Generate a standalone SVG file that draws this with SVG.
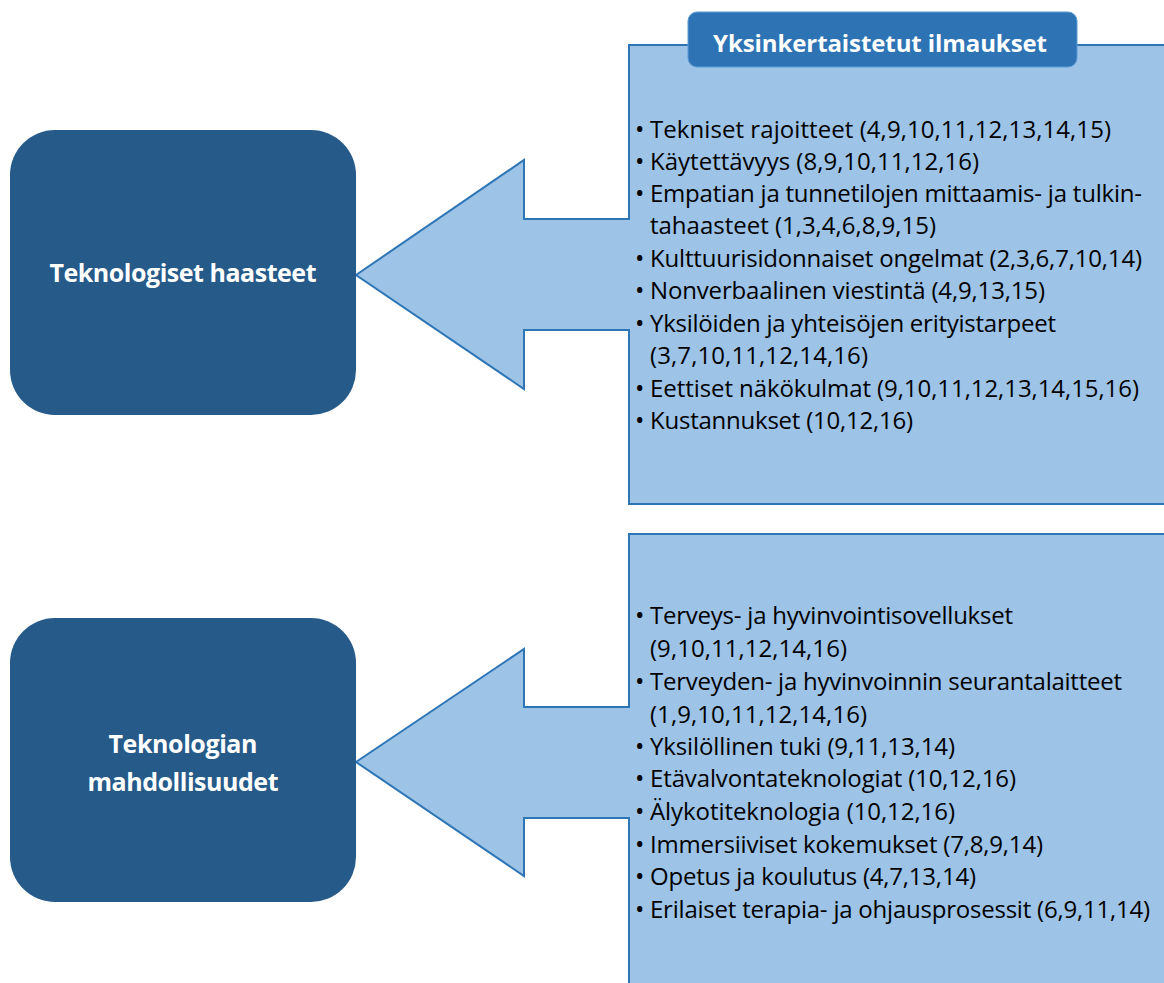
<svg xmlns="http://www.w3.org/2000/svg" width="1164" height="983" viewBox="0 0 1164 983">
  <style>
    .node-box { fill: #255A89; }
    .node-label { font-family: "Open Sans", "Liberation Sans", sans-serif; font-weight: 700; font-size: 25px; fill: #FFFFFF; text-anchor: middle; }
    .callout { fill: #9DC3E6; stroke: #2E75B6; stroke-width: 2; stroke-linejoin: miter; }
    .header-box { fill: #2E74B5; stroke: #5B9BD5; stroke-width: 1; }
    .header-label { font-family: "Open Sans", "Liberation Sans", sans-serif; font-weight: 700; font-size: 24px; fill: #FFFFFF; text-anchor: middle; }
    .item { font-family: "Open Sans", "Liberation Sans", sans-serif; font-size: 24px; fill: #000000; }
    .bullet { font-family: "Open Sans", "Liberation Sans", sans-serif; font-size: 25px; fill: #000000; }
  </style>

  <rect width="1164" height="983" fill="#FFFFFF"/>

  <!-- Left-pointing callout arrows (panel + arrow as one outline) -->
  <g id="connectors">
    <path id="callout-haasteet" class="callout" d="M356,275 L524,160 L524,219 L629,219 L629,45 L1168,45 L1168,504 L629,504 L629,330 L524,330 L524,389 Z"/>
    <path id="callout-mahdollisuudet" class="callout" d="M356,762 L524,649 L524,707 L629,707 L629,534 L1168,534 L1168,988 L629,988 L629,818 L524,818 L524,876 Z"/>
  </g>

  <!-- Left category boxes -->
  <g id="node-haasteet">
    <rect class="node-box" x="10" y="130" width="346" height="285" rx="45" ry="45"/>
    <text class="node-label" x="183" y="282" textLength="267">Teknologiset haasteet</text>
  </g>

  <g id="node-mahdollisuudet">
    <rect class="node-box" x="10" y="618" width="346" height="284" rx="45" ry="45"/>
    <text class="node-label" x="183" y="753" textLength="149">Teknologian</text>
    <text class="node-label" x="183" y="791" textLength="191">mahdollisuudet</text>
  </g>

  <!-- Header tab -->
  <g id="header">
    <rect class="header-box" x="688" y="12" width="389" height="55" rx="9" ry="9"/>
    <text class="header-label" x="880" y="52" textLength="334">Yksinkertaistetut ilmaukset</text>
  </g>

  <!-- Challenge list -->
  <g id="list-haasteet">
    <text class="bullet" x="635" y="138">•</text>
    <text class="item" x="650" y="138" textLength="461">Tekniset rajoitteet (4,9,10,11,12,13,14,15)</text>
    <text class="bullet" x="635" y="170">•</text>
    <text class="item" x="650" y="170" textLength="329">Käytettävyys (8,9,10,11,12,16)</text>
    <text class="bullet" x="635" y="202">•</text>
    <text class="item" x="650" y="202" textLength="492">Empatian ja tunnetilojen mittaamis- ja tulkin-</text>
    <text class="item" x="650" y="234" textLength="286">tahaasteet (1,3,4,6,8,9,15)</text>
    <text class="bullet" x="635" y="267">•</text>
    <text class="item" x="650" y="267" textLength="492">Kulttuurisidonnaiset ongelmat (2,3,6,7,10,14)</text>
    <text class="bullet" x="635" y="299">•</text>
    <text class="item" x="650" y="299" textLength="395">Nonverbaalinen viestintä (4,9,13,15)</text>
    <text class="bullet" x="635" y="332">•</text>
    <text class="item" x="650" y="332" textLength="406">Yksilöiden ja yhteisöjen erityistarpeet</text>
    <text class="item" x="650" y="364" textLength="218">(3,7,10,11,12,14,16)</text>
    <text class="bullet" x="635" y="397">•</text>
    <text class="item" x="650" y="397" textLength="489">Eettiset näkökulmat (9,10,11,12,13,14,15,16)</text>
    <text class="bullet" x="635" y="429">•</text>
    <text class="item" x="650" y="429" textLength="263">Kustannukset (10,12,16)</text>
  </g>

  <!-- Opportunity list -->
  <g id="list-mahdollisuudet">
    <text class="bullet" x="635" y="624">•</text>
    <text class="item" x="650" y="624" textLength="363">Terveys- ja hyvinvointisovellukset</text>
    <text class="item" x="650" y="657" textLength="197">(9,10,11,12,14,16)</text>
    <text class="bullet" x="635" y="690">•</text>
    <text class="item" x="650" y="690" textLength="472">Terveyden- ja hyvinvoinnin seurantalaitteet</text>
    <text class="item" x="650" y="723" textLength="217">(1,9,10,11,12,14,16)</text>
    <text class="bullet" x="635" y="755">•</text>
    <text class="item" x="650" y="755" textLength="305">Yksilöllinen tuki (9,11,13,14)</text>
    <text class="bullet" x="635" y="787">•</text>
    <text class="item" x="650" y="787" textLength="366">Etävalvontateknologiat (10,12,16)</text>
    <text class="bullet" x="635" y="820">•</text>
    <text class="item" x="650" y="820" textLength="305">Älykotiteknologia (10,12,16)</text>
    <text class="bullet" x="635" y="853">•</text>
    <text class="item" x="650" y="853" textLength="393">Immersiiviset kokemukset (7,8,9,14)</text>
    <text class="bullet" x="635" y="885">•</text>
    <text class="item" x="650" y="885" textLength="326">Opetus ja koulutus (4,7,13,14)</text>
    <text class="bullet" x="635" y="918">•</text>
    <text class="item" x="650" y="918" textLength="500">Erilaiset terapia- ja ohjausprosessit (6,9,11,14)</text>
  </g>
</svg>
